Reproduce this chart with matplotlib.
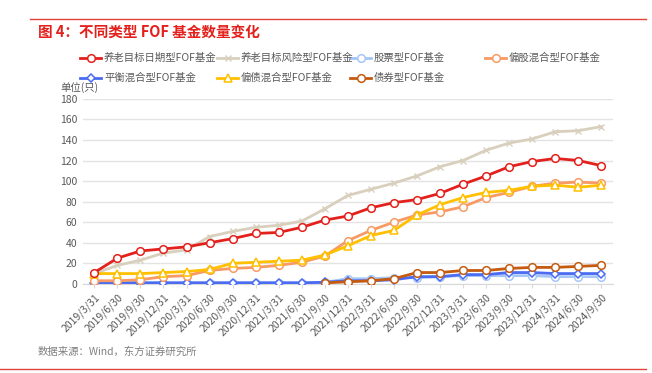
import numpy as np
import matplotlib.pyplot as plt
from matplotlib.lines import Line2D

plt.rcParams['font.family'] = ['Noto Sans CJK SC', 'DejaVu Sans']

# 报告期
dates = ['2019/3/31', '2019/6/30', '2019/9/30', '2019/12/31', '2020/3/31', '2020/6/30',
         '2020/9/30', '2020/12/31', '2021/3/31', '2021/6/30', '2021/9/30', '2021/12/31',
         '2022/3/31', '2022/6/30', '2022/9/30', '2022/12/31', '2023/3/31', '2023/6/30',
         '2023/9/30', '2023/12/31', '2024/3/31', '2024/6/30', '2024/9/30']

# 各类型 FOF 基金数量（只）
target_date = [11, 25, 32, 34, 36, 40, 44, 49, 50, 55, 62, 66, 74, 79, 82, 88, 97, 105,
               114, 119, 122, 120, 115]
target_risk = [10, 18, 23, 30, 33, 46, 51, 55, 57, 61, 73, 86, 92, 98, 105, 114, 120, 130,
               137, 141, 148, 149, 153]
stock = [1, 1, 1, 1, 1, 1, 1, 1, 1, 1, 1.5, 5, 5, 6, 6, 7, 8, 8, 8, 8, 7, 7, 7]
equity_mix = [3, 3, 4, 7, 8, 13, 15, 16, 18, 21, 27, 42, 52, 60, 67, 70, 75, 84, 89, 95,
              98, 99, 98]
balanced_mix = [1, 1, 1, 1, 1, 1, 1, 1, 1, 1, 1.5, 3, 3, 4, 7, 7, 9, 9, 11, 11, 10, 10, 10]
bond_mix = [10, 10, 10, 11, 12, 14, 20, 21, 22, 23, 28, 37, 47, 52, 67, 77, 84, 89, 91,
            95, 96, 94, 96]
bond = [None] * 10 + [1, 2, 3, 5, 11, 11, 13, 13, 15, 16, 16, 17, 18]

W, H = 652, 373
fig = plt.figure(figsize=(W / 100, H / 100), dpi=100)
ax = fig.add_axes([0.127, 0.239, 0.813, 0.496])

x = np.arange(len(dates))

# (名称, 数据, 颜色, 标记)
series = [
    ('养老目标日期型FOF基金', target_date, '#E3201B', 'o'),
    ('养老目标风险型FOF基金', target_risk, '#D8CFBD', 'x'),
    ('股票型FOF基金', stock, '#A6C6F7', 'o'),
    ('偏股混合型FOF基金', equity_mix, '#F89A63', 'o'),
    ('平衡混合型FOF基金', balanced_mix, '#4A6BF2', 'D'),
    ('偏债混合型FOF基金', bond_mix, '#FFC000', '^'),
    ('债券型FOF基金', bond, '#C55A11', 'o'),
]
zorders = [10, 4, 3, 5, 4.5, 6, 7]
# 图例位置（像素）：左边起点, 行中心
legend_pos = [(80, 58), (217, 58), (350, 58), (485, 58), (80, 78), (217, 78), (350, 78)]

for (name, vals, col, mk), z, (lx, ly) in zip(series, zorders, legend_pos):
    y = np.array([np.nan if v is None else v for v in vals], dtype=float)
    if mk == 'x':
        kw = dict(marker='x', markersize=4, markeredgewidth=1.0, color=col)
    else:
        ms = 4 if mk == 'D' else 5.5
        kw = dict(marker=mk, markersize=ms, markerfacecolor='white',
                  markeredgecolor=col, markeredgewidth=1.1, color=col)
    ax.plot(x, y, lw=2.0, zorder=z, **kw)

    # 手动图例
    fy = 1 - ly / H
    fig.add_artist(Line2D([lx / W, (lx + 21) / W], [fy, fy], lw=2.0, **kw,
                          markevery=[]))
    fig.add_artist(Line2D([(lx + 10.5) / W], [fy], lw=0, **kw))
    fig.text((lx + 24) / W, fy, name, fontsize=7.5, color='#595959', va='center')

ax.set_xlim(-0.5, len(dates) - 0.5)
ax.set_ylim(0, 180)
ax.set_yticks(np.arange(0, 181, 20))
ax.set_xticks(x)
ax.set_xticklabels(dates, rotation=45, ha='right', rotation_mode='anchor')
ax.tick_params(axis='both', labelsize=7.5, colors='#595959', length=0, pad=4)
ax.tick_params(axis='x', length=3, color='#D9D9D9', pad=3)
ax.grid(axis='y', color='#E3E3E3', lw=1)
ax.set_axisbelow(True)
for s in ['top', 'right', 'left']:
    ax.spines[s].set_visible(False)
ax.spines['bottom'].set_color('#D9D9D9')

fig.text(60 / W, 1 - 88 / H, '单位(只)', fontsize=7.5, color='#595959', va='center')

# 标题与分隔线
fig.add_artist(Line2D([30 / W, 646 / W], [1 - 19 / H] * 2, color='#E3423A', lw=1))
fig.add_artist(Line2D([0 / W, 646 / W], [1 - 369 / H] * 2, color='#E3423A', lw=1))
fig.text(38 / W, 1 - 32 / H, '图 4：不同类型 FOF 基金数量变化', fontsize=10.5,
         fontweight='bold', color='#E3201B', va='center')
fig.text(38 / W, 1 - 352 / H, '数据来源：Wind，东方证券研究所', fontsize=7.5,
         color='#7F7F7F', va='center')

fig.savefig('out.png', dpi=100)
